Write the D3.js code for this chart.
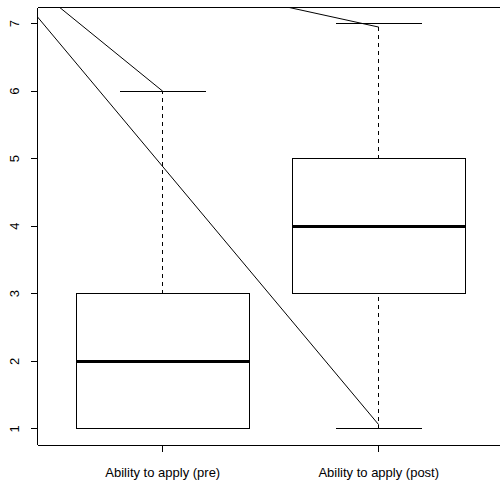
<!DOCTYPE html>
<html>
<head>
<meta charset="utf-8">
<script src="https://cdn.jsdelivr.net/npm/d3@7"></script>
<style>
  html, body { margin: 0; padding: 0; background: #fff; overflow: hidden; }
  svg { display: block; }
  text { font-family: "Liberation Sans", Arial, sans-serif; font-size: 13px; fill: #000; }
</style>
</head>
<body>
<svg id="chart" width="500" height="484"></svg>
<script>
// ---- data ----
const categories = ["Ability to apply (pre)", "Ability to apply (post)"];
const whiskerLow  = [1, 1];
const q1          = [1, 3];
const medians     = [2, 4];
const q3          = [3, 5];
const whiskerHigh = [6, 7];
const yTicks = [1, 2, 3, 4, 5, 6, 7];
// overlay line segments (data coordinates: x position, value)
const segX1 = [0.42, 0.5, 1.5];
const segY1 = [7.10, 7.30, 7.30];
const segX2 = [2.0, 1.0, 2.0];
const segY2 = [1.06, 6.0, 6.95];

// ---- layout ----
const svg = d3.select("#chart");
const pL = 37.5, pR = 504, pT = 7.5, pB = 445;

const x = d3.scaleLinear().domain([0.42, 2.58]).range([pL, pR]);
const y = d3.scaleLinear().domain([0.76, 7.24]).range([pB, pT]);

const boxHalf = 0.4, capHalf = 0.2;

svg.append("defs").append("clipPath").attr("id", "plotclip")
  .append("rect").attr("x", pL).attr("y", pT)
  .attr("width", pR - pL).attr("height", pB - pT);

const g = svg.append("g");

// boxes
categories.forEach((c, i) => {
  const cx = x(i + 1);
  const bg = g.append("g").attr("shape-rendering", "crispEdges");
  bg.append("line").attr("x1", cx).attr("x2", cx)
    .attr("y1", y(whiskerLow[i])).attr("y2", y(q1[i]))
    .attr("stroke", "#000").attr("stroke-dasharray", "4,4");
  bg.append("line").attr("x1", cx).attr("x2", cx)
    .attr("y1", y(q3[i])).attr("y2", y(whiskerHigh[i]))
    .attr("stroke", "#000").attr("stroke-dasharray", "4,4");
  bg.append("line").attr("x1", x(i + 1 - capHalf)).attr("x2", x(i + 1 + capHalf))
    .attr("y1", y(whiskerLow[i])).attr("y2", y(whiskerLow[i])).attr("stroke", "#000");
  bg.append("line").attr("x1", x(i + 1 - capHalf)).attr("x2", x(i + 1 + capHalf))
    .attr("y1", y(whiskerHigh[i])).attr("y2", y(whiskerHigh[i])).attr("stroke", "#000");
  bg.append("rect").attr("x", x(i + 1 - boxHalf)).attr("y", y(q3[i]))
    .attr("width", x(i + 1 + boxHalf) - x(i + 1 - boxHalf))
    .attr("height", y(q1[i]) - y(q3[i]))
    .attr("fill", "none").attr("stroke", "#000");
  bg.append("line").attr("x1", x(i + 1 - boxHalf)).attr("x2", x(i + 1 + boxHalf))
    .attr("y1", y(medians[i])).attr("y2", y(medians[i]))
    .attr("stroke", "#000").attr("stroke-width", 3);
});

// overlay lines
const lg = g.append("g").attr("clip-path", "url(#plotclip)");
segX1.forEach((_, i) => {
  lg.append("line")
    .attr("x1", x(segX1[i])).attr("y1", y(segY1[i]))
    .attr("x2", x(segX2[i])).attr("y2", y(segY2[i]))
    .attr("stroke", "#000").attr("stroke-width", 1);
});

// plot frame (right side lies outside the picture)
const frame = svg.append("g").attr("shape-rendering", "crispEdges")
  .attr("stroke", "#000");
frame.append("line").attr("x1", pL).attr("x2", 510).attr("y1", pT).attr("y2", pT);
frame.append("line").attr("x1", pL).attr("x2", 510).attr("y1", pB).attr("y2", pB);
frame.append("line").attr("x1", pL).attr("x2", pL).attr("y1", pT).attr("y2", pB);

// y axis
const yAxis = svg.append("g").attr("shape-rendering", "crispEdges");
yTicks.forEach(t => {
  yAxis.append("line").attr("x1", pL - 7).attr("x2", pL)
    .attr("y1", y(t)).attr("y2", y(t)).attr("stroke", "#000");
  svg.append("text")
    .attr("transform", `translate(${pL - 23},${y(t)}) rotate(-90)`)
    .attr("text-anchor", "middle").attr("dy", "0.35em")
    .text(t);
});

// x axis
const xAxis = svg.append("g").attr("shape-rendering", "crispEdges");
categories.forEach((c, i) => {
  xAxis.append("line").attr("x1", x(i + 1)).attr("x2", x(i + 1))
    .attr("y1", pB).attr("y2", pB + 7).attr("stroke", "#000");
  svg.append("text").attr("x", x(i + 1)).attr("y", pB + 27)
    .attr("text-anchor", "middle").attr("dy", "0.35em").text(c);
});
</script>
</body>
</html>
